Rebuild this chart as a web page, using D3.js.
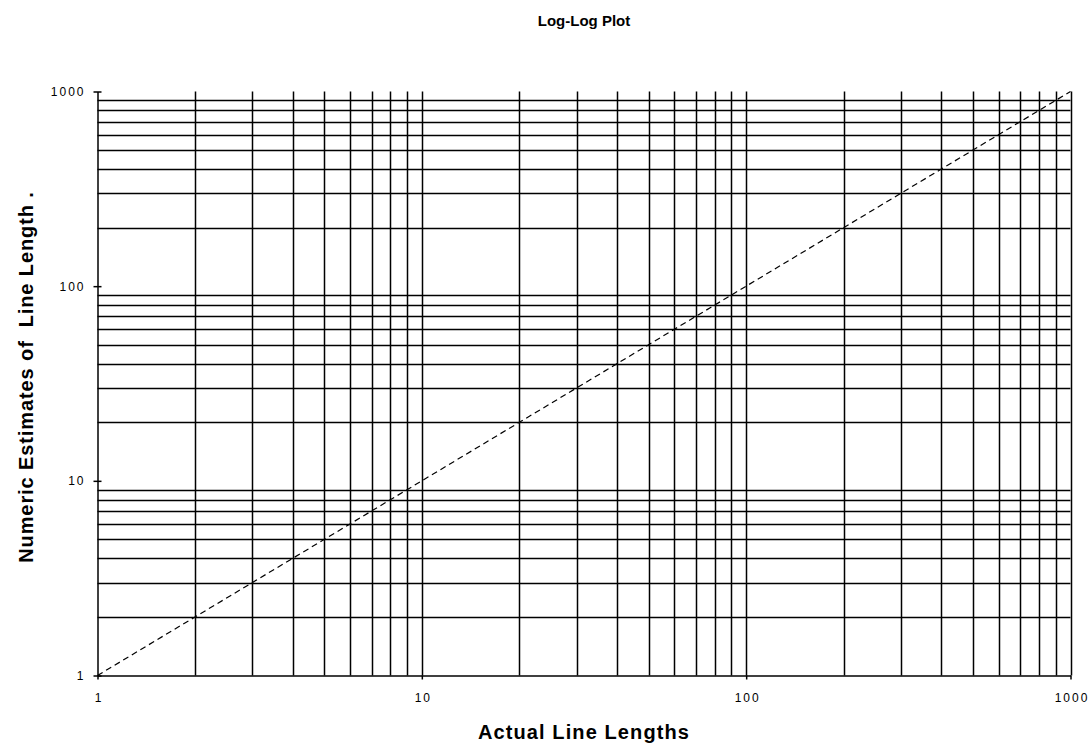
<!DOCTYPE html>
<html>
<head>
<meta charset="utf-8">
<script src="https://d3js.org/d3.v7.min.js"></script>
<style>
  html, body { margin: 0; padding: 0; background: #fff; }
  svg { display: block; }
  text { font-family: "Liberation Sans", Arial, sans-serif; fill: #000; }
</style>
</head>
<body>
<svg id="chart" width="1089" height="745"></svg>
<script>
// Reference line: estimate equals actual length
const actualLengths = [1, 10, 100, 1000];
const numericEstimates = [1, 10, 100, 1000];

// Axis labels and gridline values
const tickValues = [1, 10, 100, 1000];
const minorValues = [2, 3, 4, 5, 6, 7, 8, 9, 20, 30, 40, 50, 60, 70, 80, 90, 200, 300, 400, 500, 600, 700, 800, 900];
const xGridValues = [2, 3, 4, 5, 6, 7, 8, 9, 10, 20, 30, 40, 50, 60, 70, 80, 90, 100, 200, 300, 400, 500, 600, 700, 800, 900, 1000];

const chartTitle = "Log-Log Plot";
const xTitle = "Actual Line Lengths";
const yTitle = "Numeric Estimates of  Line Length .";

const svg = d3.select("#chart");
const plotLeft = 97.5, plotRight = 1070.5, plotTop = 91.5, plotBottom = 675.5;

const x = d3.scaleLog().domain([1, 1000]).range([plotLeft, plotRight]);
const y = d3.scaleLog().domain([1, 1000]).range([plotBottom, plotTop]);

const grid = svg.append("g").attr("stroke", "#000").attr("stroke-width", 1.5);

// horizontal gridlines (minor values only)
grid.selectAll("line.h").data(minorValues).join("line")
  .attr("class", "h")
  .attr("x1", plotLeft).attr("x2", plotRight)
  .attr("y1", d => Math.round(y(d)) + 0.5).attr("y2", d => Math.round(y(d)) + 0.5);

// vertical gridlines
grid.selectAll("line.v").data(xGridValues).join("line")
  .attr("class", "v")
  .attr("y1", plotTop).attr("y2", plotBottom)
  .attr("x1", d => Math.round(x(d)) + 0.5).attr("x2", d => Math.round(x(d)) + 0.5);

// identity dashed line
const line = d3.line().x(d => x(d)).y((d, i) => y(numericEstimates[i]));
svg.append("path")
  .datum(actualLengths)
  .attr("d", line)
  .attr("fill", "none")
  .attr("stroke", "#000")
  .attr("stroke-width", 1.2)
  .attr("stroke-dasharray", "6,4");

// y axis
const yAxis = d3.axisLeft(y).tickValues(tickValues).tickFormat(d3.format("d")).tickSizeInner(4).tickSizeOuter(0).tickPadding(8);
const gy = svg.append("g").attr("transform", `translate(${plotLeft},0)`).call(yAxis);
gy.select(".domain").attr("stroke", "#000").attr("stroke-width", 1.5);
gy.selectAll(".tick line").attr("x2", -4).attr("x1", 4).attr("stroke-width", 1.5);
gy.selectAll(".tick text")
  .attr("font-size", 12).attr("letter-spacing", "2px")
  .attr("font-family", "'Liberation Sans', Arial, sans-serif");

// x axis
const xAxis = d3.axisBottom(x).tickValues(tickValues).tickFormat(d3.format("d")).tickSizeInner(4).tickSizeOuter(0).tickPadding(14);
const gx = svg.append("g").attr("transform", `translate(0,${plotBottom})`).call(xAxis);
gx.select(".domain").attr("stroke", "#000").attr("stroke-width", 1.5);
gx.selectAll(".tick line").attr("stroke-width", 1.5);
gx.selectAll(".tick text")
  .attr("font-size", 12).attr("letter-spacing", "2px").attr("dx", "1px")
  .attr("font-family", "'Liberation Sans', Arial, sans-serif");

// titles
svg.append("text")
  .attr("x", 584).attr("y", 26)
  .attr("text-anchor", "middle")
  .attr("font-size", 15).attr("font-weight", "bold")
  .text(chartTitle);

svg.append("text")
  .attr("x", 584).attr("y", 739)
  .attr("text-anchor", "middle")
  .attr("font-size", 20).attr("font-weight", "bold").attr("letter-spacing", "1.1px")
  .text(xTitle);

svg.append("text")
  .attr("transform", `translate(33,377) rotate(-90)`)
  .attr("text-anchor", "middle")
  .attr("font-size", 20).attr("font-weight", "bold").attr("letter-spacing", "0.9px")
  .style("white-space", "pre")
  .text(yTitle);
</script>
</body>
</html>
